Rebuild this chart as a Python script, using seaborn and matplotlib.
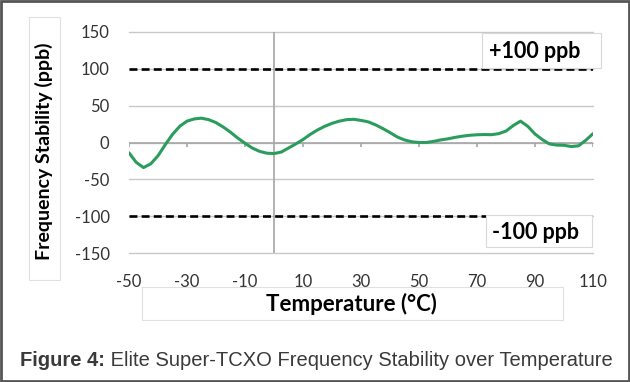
import matplotlib
matplotlib.use("Agg")
import matplotlib.pyplot as plt
from matplotlib.patches import Rectangle
import seaborn as sns
import pandas as pd

# ---- data ----
temps = [-50, -47.5, -45, -42.5, -40, -37.5, -35, -32.5, -30, -27.5, -25, -22.5,
         -20, -17.5, -15, -12.5, -10, -7.5, -5, -2.5, 0, 2.5, 5, 7.5, 10, 12.5,
         15, 17.5, 20, 22.5, 25, 27.5, 30, 32.5, 35, 37.5, 40, 42.5, 45, 47.5,
         50, 52.5, 55, 57.5, 60, 62.5, 65, 67.5, 70, 72.5, 75, 77.5, 80, 82.5,
         85, 87.5, 90, 92.5, 95, 97.5, 100, 102.5, 105, 107.5, 110]
stability = [-14, -27, -34, -29, -18, -3, 11, 22, 29, 32, 33, 31,
             27, 21, 14, 6, -1, -7.5, -12, -14.5, -15, -13, -7.5, -2, 4, 11,
             17, 22, 26, 29, 31, 31.5, 30, 28, 24, 19, 13.5, 7.5, 3.5, 1,
             0, 0, 1.5, 3.5, 5, 7, 8.6, 9.8, 10.5, 10.8, 10.6, 12, 15.5, 23,
             29, 22, 11.5, 4, -2, -3.5, -3.8, -5.5, -4.5, 3, 12]
limit_temps = [-50, 110]
upper_limit = [100, 100]
lower_limit = [-100, -100]
x_ticks = [-50, -30, -10, 10, 30, 50, 70, 90, 110]
y_ticks = [-150, -100, -50, 0, 50, 100, 150]
x_title = "Temperature (°C)"
y_title = "Frequency Stability (ppb)"
upper_label = "+100 ppb"
lower_label = "-100 ppb"
caption_bold = "Figure 4:"
caption_rest = " Elite Super-TCXO Frequency Stability over Temperature"

sns.set_theme(style="white")
plt.rcParams["font.family"] = ["Lato", "DejaVu Sans"]
plt.rcParams["axes.unicode_minus"] = False

W, H = 630, 382
fig = plt.figure(figsize=(W / 100, H / 100), dpi=100)

def fx(px):
    return px / W

def fy(py):
    return 1 - py / H

ax = fig.add_axes([fx(129), fy(253), fx(593) - fx(129), fy(32) - fy(253)])

df = pd.DataFrame({"Temperature": temps, "Stability": stability})
lim = pd.DataFrame({"Temperature": limit_temps + limit_temps,
                    "Value": upper_limit + lower_limit,
                    "Limit": ["upper"] * 2 + ["lower"] * 2})

ax.set_xlim(-50, 110)
ax.set_ylim(-150, 150)
ax.set_yticks(y_ticks)
ax.set_xticks(x_ticks)
ax.yaxis.grid(True, color="#c8c8c8", linewidth=1.0)
ax.xaxis.grid(False)
for gl in ax.get_ygridlines():
    gl.set_clip_on(False)
for s in ax.spines.values():
    s.set_visible(False)

ax.axhline(0, color="#a6a6a6", linewidth=1.2, zorder=2)
ax.axvline(0, color="#a6a6a6", linewidth=1.2, zorder=2)
ax.vlines(x_ticks, 0, -6.5, color="#a6a6a6", linewidth=1.2, zorder=2)

for name, g in lim.groupby("Limit"):
    sns.lineplot(data=g, x="Temperature", y="Value", ax=ax, color="black",
                 linewidth=1.9, linestyle=(0, (3, 1.6)), zorder=3)

sns.lineplot(data=df, x="Temperature", y="Stability", ax=ax, color="#2a9d5c",
             linewidth=2.2, zorder=4, solid_joinstyle="round", solid_capstyle="round")

ax.set_xlabel("")
ax.set_ylabel("")
ax.tick_params(axis="both", length=0, labelsize=12, colors="#333333")
ax.tick_params(axis="x", pad=15)
ax.tick_params(axis="y", pad=14)

# axis titles with light boxes
fig.patches.append(Rectangle((fx(29), fy(280)), fx(60) - fx(29), fy(17) - fy(280),
                             transform=fig.transFigure, fill=False,
                             edgecolor="#e0e0e0", linewidth=0.8))
fig.text(fx(44), fy(151), y_title, rotation=90, ha="center", va="center",
         fontsize=14, fontweight="bold", color="black")

fig.patches.append(Rectangle((fx(142), fy(320)), fx(563) - fx(142), fy(287) - fy(320),
                             transform=fig.transFigure, fill=False,
                             edgecolor="#e0e0e0", linewidth=0.8))
fig.text(fx(351), fy(304), x_title, ha="center", va="center",
         fontsize=16, fontweight="bold", color="black")

# limit label boxes
fig.patches.append(Rectangle((fx(482), fy(68)), fx(601) - fx(482), fy(33) - fy(68),
                             transform=fig.transFigure, facecolor="white",
                             edgecolor="#d9d9d9", linewidth=0.8, zorder=5))
fig.text(fx(535), fy(51), upper_label, ha="center", va="center",
         fontsize=15.5, fontweight="bold", color="black", zorder=6)

fig.patches.append(Rectangle((fx(486), fy(247)), fx(592) - fx(486), fy(215) - fy(247),
                             transform=fig.transFigure, facecolor="white",
                             edgecolor="#d9d9d9", linewidth=0.8, zorder=5))
fig.text(fx(536), fy(233), lower_label, ha="center", va="center",
         fontsize=15.5, fontweight="bold", color="black", zorder=6)

# caption
cap_font = ["Liberation Sans", "DejaVu Sans"]
t1 = fig.text(fx(20), fy(360), caption_bold, ha="left", va="center",
              fontsize=14.5, fontweight="bold", color="#3a3a3a", family=cap_font)
fig.canvas.draw()
bb = t1.get_window_extent()
fig.text(bb.x1 / W, fy(360), caption_rest, ha="left", va="center",
         fontsize=14.5, color="#3a3a3a", family=cap_font)

# outer frame
fig.patches.append(Rectangle((0.0015, 0.002), 0.997, 0.996, transform=fig.transFigure,
                             fill=False, edgecolor="#555555", linewidth=2.0))

fig.savefig("out.png", dpi=100)
